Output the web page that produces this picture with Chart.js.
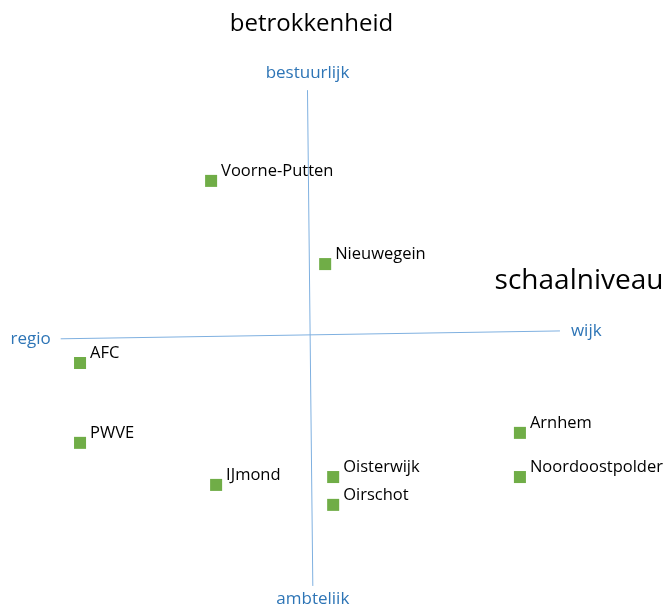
<!DOCTYPE html>
<html>
<head>
<meta charset="utf-8">
<script src="https://cdn.jsdelivr.net/npm/chart.js@4/dist/chart.umd.min.js"></script>
<style>
  html, body { margin: 0; padding: 0; background: #fff; }
  #wrap { width: 667px; height: 605px; }
</style>
</head>
<body>
<div id="wrap"><canvas id="chart" width="667" height="605"></canvas></div>
<script>
// ── Data ─────────────────────────────────────────────────────
const names = ['Voorne-Putten', 'Nieuwegein', 'AFC', 'PWVE', 'Arnhem', 'Noordoostpolder', 'IJmond', 'Oisterwijk', 'Oirschot'];
const xVals = [-3.67, -0.25, -7.60, -7.60, 5.59, 5.59, -3.52, -0.01, -0.01];
const yVals = [4.02, 1.27, -2.00, -4.64, -4.31, -5.77, -6.03, -5.77, -6.69];

// axis cross lines (slightly tilted, as in the original)
const vAxisX = [-0.78, -0.62];
const vAxisY = [7.02, -9.37];
const hAxisX = [-8.18, 6.79];
const hAxisY = [-1.20, -0.94];

const vAxisEnds = ['bestuurlijk', 'ambteliik'];
const hAxisEnds = ['regio', 'wijk'];
const titleY = 'betrokkenheid';
const titleX = 'schaalniveau';

const BLUE = '#2e75b6';
const LINE = '#7fb0e0';
const GREEN = '#70ad47';

const toPts = (xs, ys) => xs.map((x, i) => ({ x, y: ys[i] }));

// ── Labels plugin ────────────────────────────────────────────
const labelPlugin = {
  id: 'labels',
  afterDatasetsDraw(chart) {
    const ctx = chart.ctx;
    const xs = chart.scales.x, ys = chart.scales.y;
    ctx.save();

    // point labels
    ctx.font = '16.5px "Open Sans"';
    ctx.fillStyle = '#000';
    ctx.textAlign = 'left';
    ctx.textBaseline = 'middle';
    chart.getDatasetMeta(0).data.forEach((pt, i) => {
      ctx.fillText(names[i], pt.x + 10, pt.y - 10);
    });

    // axis end labels
    ctx.font = '17px "Open Sans"';
    ctx.fillStyle = BLUE;
    ctx.textAlign = 'center';
    ctx.fillText(vAxisEnds[0], xs.getPixelForValue(vAxisX[0]), ys.getPixelForValue(vAxisY[0]) - 17);
    ctx.fillText(vAxisEnds[1], xs.getPixelForValue(vAxisX[1]), ys.getPixelForValue(vAxisY[1]) + 13);
    ctx.textAlign = 'right';
    ctx.fillText(hAxisEnds[0], xs.getPixelForValue(hAxisX[0]) - 10, ys.getPixelForValue(hAxisY[0]));
    ctx.textAlign = 'left';
    ctx.fillText(hAxisEnds[1], xs.getPixelForValue(hAxisX[1]) + 11, ys.getPixelForValue(hAxisY[1]));

    // titles
    ctx.fillStyle = '#000';
    ctx.textAlign = 'center';
    ctx.font = '24px "Open Sans"';
    ctx.fillText(titleY, xs.getPixelForValue(vAxisX[0]) + 4, 24);
    ctx.font = '28px "Open Sans"';
    ctx.fillText(titleX, 579, 281);
    ctx.restore();
  }
};

// ── Chart ────────────────────────────────────────────────────
new Chart(document.getElementById('chart'), {
  type: 'scatter',
  data: {
    datasets: [
      {
        data: toPts(xVals, yVals),
        pointStyle: 'rect',
        pointRadius: 8.5,
        pointBorderWidth: 0,
        backgroundColor: GREEN,
        borderColor: GREEN,
        order: 0
      },
      {
        data: toPts(vAxisX, vAxisY),
        showLine: true,
        borderColor: LINE,
        borderWidth: 1,
        pointRadius: 0,
        order: 1
      },
      {
        data: toPts(hAxisX, hAxisY),
        showLine: true,
        borderColor: LINE,
        borderWidth: 1,
        pointRadius: 0,
        order: 1
      }
    ]
  },
  options: {
    responsive: false,
    animation: false,
    layout: { padding: 0, autoPadding: false },
    scales: {
      x: { display: false, min: -10, max: 10 },
      y: { display: false, min: -10, max: 10 }
    },
    plugins: {
      legend: { display: false },
      tooltip: { enabled: false }
    }
  },
  plugins: [labelPlugin]
});
</script>
</body>
</html>
